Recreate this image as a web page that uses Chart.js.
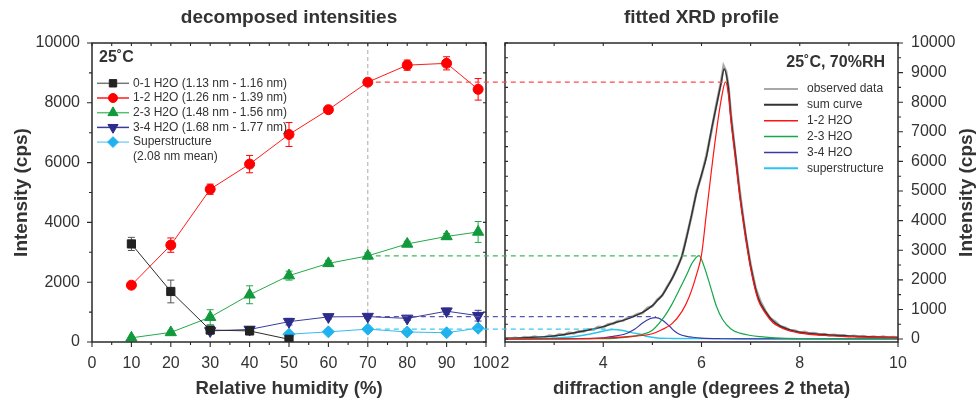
<!DOCTYPE html>
<html><head><meta charset="utf-8">
<script src="https://cdn.jsdelivr.net/npm/chart.js@4.4.1/dist/chart.umd.min.js"></script>
<style>
html,body{margin:0;padding:0;background:#fff;}
#wrap{position:relative;width:979px;height:402px;overflow:hidden;}
canvas{position:absolute;left:0;top:0;}
</style></head><body>
<div id="wrap"><canvas id="leftCanvas" width="979" height="402"></canvas><canvas id="rightCanvas" width="979" height="402"></canvas></div>
<script>
// ---------------- LEFT PANEL DATA (decomposed intensities) ----------------
const humidity01 = [10, 20, 30, 40, 50];
const intensity01 = [3280, 1690, 400, 370, 90];
const error01 = [220, 380, 120, 90, 30];

const humidity12 = [10, 20, 30, 40, 50, 60, 70, 80, 90, 98];
const intensity12 = [1900, 3240, 5110, 5950, 6940, 7770, 8690, 9260, 9320, 8450];
const error12 = [40, 240, 170, 290, 400, 80, 80, 170, 220, 360];

const humidity23 = [10, 20, 30, 40, 50, 60, 70, 80, 90, 98];
const intensity23 = [140, 320, 830, 1580, 2220, 2630, 2880, 3280, 3530, 3680];
const error23 = [30, 40, 250, 300, 150, 100, 100, 90, 100, 350];

const humidity34 = [30, 40, 50, 60, 70, 80, 90, 98];
const intensity34 = [370, 420, 680, 840, 850, 790, 1030, 880];
const error34 = [60, 70, 110, 70, 60, 70, 100, 180];

const humiditySS = [50, 60, 70, 80, 90, 98];
const intensitySS = [260, 340, 430, 335, 310, 460];
const errorSS = [20, 20, 30, 20, 20, 30];

const leftLegendLabels = [
  '0-1 H2O (1.13 nm - 1.16 nm)',
  '1-2 H2O (1.26 nm - 1.39 nm)',
  '2-3 H2O (1.48 nm - 1.56 nm)',
  '3-4 H2O (1.68 nm - 1.77 nm)',
  ['Superstructure', '(2.08 nm mean)']
];
const leftXTicks = [0, 10, 20, 30, 40, 50, 60, 70, 80, 90, 100];
const leftYTicks = [0, 2000, 4000, 6000, 8000, 10000];
const markedHumidity = 70;

// ---------------- RIGHT PANEL DATA (fitted XRD profile, 25 C 70 %RH) ----------------
const angleObs = [2.0,2.1,2.2,2.3,2.4,2.5,2.6,2.7,2.8,2.9,3.0,3.1,3.2,3.3,3.4,3.5,3.6,3.7,3.8,3.9,
  4.0,4.1,4.2,4.3,4.4,4.5,4.6,4.7,4.8,4.9,5.0,5.1,5.2,5.3,5.4,5.5,5.6,5.7,5.8,5.9,
  6.0,6.1,6.2,6.3,6.4,6.45,6.5,6.55,6.6,6.7,6.8,6.9,7.0,7.1,7.2,7.3,7.4,7.5,7.6,7.7,7.8,7.9,
  8.0,8.1,8.2,8.3,8.4,8.5,8.6,8.7,8.8,8.9,9.0,9.1,9.2,9.3,9.4,9.5,9.6,9.7,9.8,9.9,10.0];
const intensityObs = [30,10,45,20,70,40,85,55,60,115,90,160,140,215,190,265,255,330,320,410,
  400,500,520,610,615,720,760,850,880,1050,1110,1330,1470,1770,2030,2400,2780,3480,4170,5000,
  5520,6200,7000,7900,8700,9220,9050,8500,7560,6080,4700,3470,2500,1730,1270,950,700,590,430,390,300,290,
  220,240,190,200,150,165,125,145,110,125,85,110,75,100,60,85,50,80,45,70,50];

const angleSum = [2,2.2,2.5,2.9,3.3,3.6,3.8,4.0,4.2,4.4,4.6,4.8,5.0,5.1,5.2,5.35,5.5,5.6,5.7,5.8,5.9,6.0,6.1,6.2,6.3,6.4,6.46,6.55,6.6,6.7,6.78,6.9,7.0,7.15,7.3,7.45,7.6,7.8,8.0,8.5,9.0,9.5,10];
const intensitySum = [20,30,50,90,180,270,340,420,530,630,750,900,1130,1300,1480,1890,2380,2800,3450,4200,4950,5550,6150,7050,7850,8650,9120,8450,7500,6100,4900,3500,2480,1410,930,620,440,310,230,150,100,70,55];

const angle12 = [2,3,4,4.5,5,5.2,5.4,5.6,5.75,5.9,6.0,6.1,6.2,6.3,6.4,6.49,6.55,6.6,6.7,6.78,6.9,7.0,7.15,7.3,7.45,7.6,7.8,8.0,8.5,9.0,9.5,10];
const profile12 = [5,10,30,80,180,320,520,925,1430,2185,2840,4250,5660,6975,8080,8690,8235,7375,5965,4805,3395,2385,1330,875,560,400,270,200,120,80,55,40];

const angle23 = [2,3,3.5,4,4.4,4.8,5.0,5.25,5.4,5.55,5.7,5.8,5.95,6.05,6.2,6.3,6.43,6.6,6.78,7.0,7.2,7.5,8.0,9.0,10];
const profile23 = [2,5,10,15,50,160,300,775,1180,1670,2180,2540,2820,2470,1670,1125,660,340,200,120,80,40,15,8,5];

const angle34 = [2,3,3.5,4,4.2,4.43,4.63,4.8,4.95,5.07,5.2,5.35,5.45,5.55,5.7,5.82,6.0,6.4,7,8,10];
const profile34 = [2,5,10,40,90,160,320,540,685,725,645,430,270,160,90,60,30,10,5,5,5];

const angleSS = [2,2.5,3,3.34,3.68,3.9,4.05,4.2,4.4,4.6,4.77,4.9,5.1,5.4,6,7,8,10];
const profileSS = [10,15,35,70,152,230,290,320,290,210,152,85,35,20,15,15,15,15];

const rightLegendLabels = ['observed data', 'sum curve', '1-2 H2O', '2-3 H2O', '3-4 H2O', 'superstructure'];
const rightXTicks = [2, 4, 6, 8, 10];
const rightYTicks = [0, 1000, 2000, 3000, 4000, 5000, 6000, 7000, 8000, 9000, 10000];

// ---------------- helpers ----------------
const FONT = '"Liberation Sans", Arial, Helvetica, sans-serif';
const INK = '#333333';
Chart.defaults.font.family = FONT;
Chart.defaults.color = INK;

function pts(xs, ys) { return xs.map((x, i) => ({ x: x, y: ys[i] })); }
const plainLabel = v => String(v);

function drawText(ctx, str, x, y, font, align, rot) {
  ctx.save();
  ctx.translate(x, y);
  if (rot) ctx.rotate(rot);
  ctx.font = font;
  ctx.fillStyle = INK;
  ctx.textAlign = align || 'center';
  ctx.textBaseline = 'middle';
  ctx.fillText(str, 0, 0);
  ctx.restore();
}

function drawFrame(chart) {
  const a = chart.chartArea, ctx = chart.ctx;
  ctx.save();
  ctx.strokeStyle = '#2a2a2a';
  ctx.lineWidth = 1.5;
  ctx.strokeRect(a.left, a.top, a.right - a.left, a.bottom - a.top);
  ctx.restore();
}

function tickMarks(chart, scale, side, from, to, step, majorEvery, lenMajor, lenMinor, inward) {
  const a = chart.chartArea, ctx = chart.ctx;
  ctx.save();
  ctx.strokeStyle = '#2a2a2a';
  ctx.lineWidth = 1.1;
  ctx.beginPath();
  const n = Math.round((to - from) / step);
  for (let i = 0; i <= n; i++) {
    const v = from + i * step;
    const r = v / majorEvery;
    const major = Math.abs(r - Math.round(r)) < 1e-6;
    const len = major ? lenMajor : lenMinor;
    const p = scale.getPixelForValue(v);
    if (side === 'bottom') { ctx.moveTo(p, a.bottom); ctx.lineTo(p, a.bottom + (inward ? -len : len)); }
    else if (side === 'top') { ctx.moveTo(p, a.top); ctx.lineTo(p, a.top + (inward ? len : -len)); }
    else if (side === 'left') { ctx.moveTo(a.left, p); ctx.lineTo(a.left + (inward ? len : -len), p); }
    else { ctx.moveTo(a.right, p); ctx.lineTo(a.right + (inward ? -len : len), p); }
  }
  ctx.stroke();
  ctx.restore();
}

function marker(ctx, style, x, y, r, rot, fill) {
  ctx.save();
  ctx.fillStyle = fill;
  ctx.strokeStyle = fill;
  ctx.lineWidth = 1;
  Chart.helpers.drawPoint(ctx, { pointStyle: style, radius: r, rotation: rot || 0, borderWidth: 1 }, x, y);
  ctx.restore();
}

// ---------------- LEFT CHART ----------------
const leftSeries = [
  { label: leftLegendLabels[0], xs: humidity01, ys: intensity01, errs: error01, point: '#222222', line: '#2b2b2b', legendLine: '#777777', err: '#555555', style: 'rect', r: 5.8, rot: 0 },
  { label: leftLegendLabels[1], xs: humidity12, ys: intensity12, errs: error12, point: '#ff0000', line: '#ff1a1a', legendLine: '#ff1a1a', err: '#ff0000', style: 'circle', r: 5, rot: 0 },
  { label: leftLegendLabels[2], xs: humidity23, ys: intensity23, errs: error23, point: '#119a3c', line: '#22aa48', legendLine: '#55c070', err: '#22aa48', style: 'triangle', r: 6.5, rot: 0 },
  { label: leftLegendLabels[3], xs: humidity34, ys: intensity34, errs: error34, point: '#2c2c8c', line: '#3b3b9e', legendLine: '#3b3b9e', err: '#3b3b9e', style: 'triangle', r: 6.5, rot: 180 },
  { label: leftLegendLabels[4], xs: humiditySS, ys: intensitySS, errs: errorSS, point: '#1fb2ee', line: '#33bbf0', legendLine: '#80d4f5', err: '#33bbf0', style: 'rectRot', r: 6, rot: 0 }
];

const leftPlugin = {
  id: 'leftDecor',
  beforeDatasetsDraw(chart) {
    const ctx = chart.ctx, a = chart.chartArea, xs = chart.scales.x, ys = chart.scales.y;
    const xv = xs.getPixelForValue(markedHumidity);
    ctx.save();
    ctx.strokeStyle = '#a8a8a8';
    ctx.lineWidth = 1;
    ctx.setLineDash([4, 3]);
    ctx.beginPath(); ctx.moveTo(xv, a.top); ctx.lineTo(xv, a.bottom); ctx.stroke();
    ctx.restore();
    leftSeries.forEach(s => {
      ctx.save();
      ctx.strokeStyle = s.err;
      ctx.lineWidth = 1;
      s.xs.forEach((x, j) => {
        const e = s.errs[j];
        if (!e) return;
        const px = xs.getPixelForValue(x);
        const y1 = ys.getPixelForValue(s.ys[j] + e), y2 = ys.getPixelForValue(s.ys[j] - e);
        ctx.beginPath();
        ctx.moveTo(px, y1); ctx.lineTo(px, y2);
        ctx.moveTo(px - 3.5, y1); ctx.lineTo(px + 3.5, y1);
        ctx.moveTo(px - 3.5, y2); ctx.lineTo(px + 3.5, y2);
        ctx.stroke();
      });
      ctx.restore();
    });
  },
  afterDraw(chart) {
    const ctx = chart.ctx, a = chart.chartArea, xs = chart.scales.x, ys = chart.scales.y;
    drawFrame(chart);
    tickMarks(chart, xs, 'bottom', 0, 100, 5, 10, 5, 3, false);
    tickMarks(chart, xs, 'top', 0, 100, 5, 10, 3, 3, true);
    tickMarks(chart, ys, 'left', 0, 10000, 1000, 2000, 5, 3, false);
    tickMarks(chart, ys, 'right', 0, 10000, 1000, 2000, 3, 3, true);
    const cx = (a.left + a.right) / 2, cy = (a.top + a.bottom) / 2;
    drawText(ctx, 'decomposed intensities', cx, 18, 'bold 19px ' + FONT, 'center');
    drawText(ctx, 'Relative humidity (%)', cx, 389, 'bold 18.5px ' + FONT, 'center');
    drawText(ctx, 'Intensity (cps)', 22, cy, 'bold 19px ' + FONT, 'center', -Math.PI / 2);
    drawText(ctx, '25˚C', a.left + 7, 58, 'bold 16px ' + FONT, 'left');
    const x0 = a.left + 5, x1 = a.left + 37, xm = a.left + 21, xt = a.left + 41;
    leftSeries.forEach((s, i) => {
      const y = 83.3 + i * 14.7;
      ctx.save();
      ctx.strokeStyle = s.legendLine; ctx.lineWidth = 1.5;
      ctx.beginPath(); ctx.moveTo(x0, y); ctx.lineTo(x1, y); ctx.stroke();
      ctx.restore();
      marker(ctx, s.style, xm, y, s.r * 0.9, s.rot, s.point);
      const lines = Array.isArray(s.label) ? s.label : [s.label];
      lines.forEach((t, k) => drawText(ctx, t, xt, y + k * 14.7, '12px ' + FONT, 'left'));
    });
  }
};

const leftChart = new Chart(document.getElementById('leftCanvas'), {
  type: 'line',
  data: {
    datasets: leftSeries.map(s => ({
      label: Array.isArray(s.label) ? s.label.join(' ') : s.label,
      data: pts(s.xs, s.ys),
      borderColor: s.line,
      backgroundColor: s.point,
      pointBackgroundColor: s.point,
      pointBorderColor: s.point,
      pointStyle: s.style,
      pointRadius: s.r,
      pointRotation: s.rot,
      borderWidth: 1,
      tension: 0,
      fill: false
    }))
  },
  options: {
    responsive: false,
    devicePixelRatio: 1,
    animation: false,
    events: [],
    layout: { padding: { left: 0, top: 43, right: 493, bottom: 0 } },
    plugins: { legend: { display: false }, tooltip: { enabled: false } },
    scales: {
      x: {
        type: 'linear', min: 0, max: 100,
        afterBuildTicks: s => { s.ticks = leftXTicks.map(v => ({ value: v })); },
        afterFit: s => { s.height = 60; },
        ticks: { font: { size: 16 }, color: INK, padding: 12, maxRotation: 0, autoSkip: false, callback: plainLabel },
        grid: { display: false, drawTicks: false },
        border: { display: false }
      },
      y: {
        type: 'linear', min: 0, max: 10000,
        afterBuildTicks: s => { s.ticks = leftYTicks.map(v => ({ value: v })); },
        afterFit: s => { s.width = 92; },
        ticks: { font: { size: 16 }, color: INK, padding: 12, callback: plainLabel },
        grid: { display: false, drawTicks: false },
        border: { display: false }
      }
    }
  },
  plugins: [leftPlugin]
});

// ---------------- RIGHT CHART ----------------
const rightSeries = [
  { label: rightLegendLabels[0], xs: angleObs, ys: intensityObs, color: '#a8a8a8', width: 2.6, legendWidth: 2, mono: false, order: 10 },
  { label: rightLegendLabels[1], xs: angleSum, ys: intensitySum, color: '#333333', width: 1.5, legendWidth: 2, mono: true, order: 9 },
  { label: rightLegendLabels[2], xs: angle12, ys: profile12, color: '#ff1414', width: 1.2, legendWidth: 1.5, mono: true, order: 1 },
  { label: rightLegendLabels[3], xs: angle23, ys: profile23, color: '#14a84a', width: 1.2, legendWidth: 1.5, mono: true, order: 2 },
  { label: rightLegendLabels[4], xs: angle34, ys: profile34, color: '#3a3aa6', width: 1.2, legendWidth: 1.5, mono: true, order: 3 },
  { label: rightLegendLabels[5], xs: angleSS, ys: profileSS, color: '#28c4f0', width: 1.4, legendWidth: 2, mono: true, order: 4 }
];

const links = [
  { hum: humidity12, val: intensity12, xs: angle12, ys: profile12, color: '#ff4a4a' },
  { hum: humidity23, val: intensity23, xs: angle23, ys: profile23, color: '#3cb864' },
  { hum: humidity34, val: intensity34, xs: angle34, ys: profile34, color: '#5656b0' },
  { hum: humiditySS, val: intensitySS, xs: angleSS, ys: profileSS, color: '#3cc6f0' }
];

const rightPlugin = {
  id: 'rightDecor',
  afterDraw(chart) {
    const ctx = chart.ctx, a = chart.chartArea, xs = chart.scales.x, ys = chart.scales.y;
    drawFrame(chart);
    tickMarks(chart, xs, 'bottom', 2, 10, 1, 2, 5, 3, false);
    tickMarks(chart, xs, 'top', 2, 10, 1, 2, 3, 3, true);
    tickMarks(chart, ys, 'right', 0, 10000, 500, 1000, 5, 3, false);
    tickMarks(chart, ys, 'left', 0, 10000, 500, 1000, 3, 3, true);
    const cx = (a.left + a.right) / 2, cy = (a.top + a.bottom) / 2;
    drawText(ctx, 'fitted XRD profile', cx, 18, 'bold 19px ' + FONT, 'center');
    drawText(ctx, 'diffraction angle (degrees 2 theta)', cx, 389, 'bold 18.5px ' + FONT, 'center');
    drawText(ctx, 'Intensity (cps)', 967, cy, 'bold 19px ' + FONT, 'center', -Math.PI / 2);
    drawText(ctx, '25˚C, 70%RH', a.right - 13, 62.5, 'bold 16px ' + FONT, 'right');
    rightSeries.forEach((s, i) => {
      const y = 89 + i * 15.85;
      ctx.save();
      ctx.strokeStyle = s.color; ctx.lineWidth = s.legendWidth;
      ctx.beginPath(); ctx.moveTo(764, y); ctx.lineTo(798, y); ctx.stroke();
      ctx.restore();
      drawText(ctx, s.label, 807, y, '12px ' + FONT, 'left');
    });
    const lx = leftChart.scales.x, ly = leftChart.scales.y;
    links.forEach(l => {
      const v = l.val[l.hum.indexOf(markedHumidity)];
      const y = ly.getPixelForValue(v);
      let k = 0;
      l.ys.forEach((q, j) => { if (q > l.ys[k]) k = j; });
      const xStart = lx.getPixelForValue(markedHumidity) + 8;
      const xEnd = xs.getPixelForValue(l.xs[k]);
      ctx.save();
      ctx.strokeStyle = l.color; ctx.lineWidth = 1.4; ctx.setLineDash([5, 4]);
      ctx.beginPath(); ctx.moveTo(xStart, y); ctx.lineTo(xEnd, y); ctx.stroke();
      ctx.restore();
    });
  }
};

const rightChart = new Chart(document.getElementById('rightCanvas'), {
  type: 'line',
  data: {
    datasets: rightSeries.map(s => ({
      label: s.label,
      data: pts(s.xs, s.ys),
      borderColor: s.color,
      backgroundColor: s.color,
      borderWidth: s.width,
      pointRadius: 0,
      tension: 0,
      cubicInterpolationMode: s.mono ? 'monotone' : 'default',
      order: s.order,
      fill: false
    }))
  },
  options: {
    responsive: false,
    devicePixelRatio: 1,
    animation: false,
    events: [],
    layout: { padding: { left: 505, top: 43, right: 0, bottom: 0 } },
    plugins: { legend: { display: false }, tooltip: { enabled: false } },
    scales: {
      x: {
        type: 'linear', min: 2, max: 10,
        afterBuildTicks: s => { s.ticks = rightXTicks.map(v => ({ value: v })); },
        afterFit: s => { s.height = 60; },
        ticks: { font: { size: 16 }, color: INK, padding: 12, maxRotation: 0, autoSkip: false, callback: plainLabel },
        grid: { display: false, drawTicks: false },
        border: { display: false }
      },
      y: {
        type: 'linear', position: 'right', min: -100, max: 10000,
        afterBuildTicks: s => { s.ticks = rightYTicks.map(v => ({ value: v })); },
        afterFit: s => { s.width = 81; },
        ticks: { font: { size: 16 }, color: INK, padding: 13, callback: plainLabel },
        grid: { display: false, drawTicks: false },
        border: { display: false }
      }
    }
  },
  plugins: [rightPlugin]
});
</script>
</body></html>
